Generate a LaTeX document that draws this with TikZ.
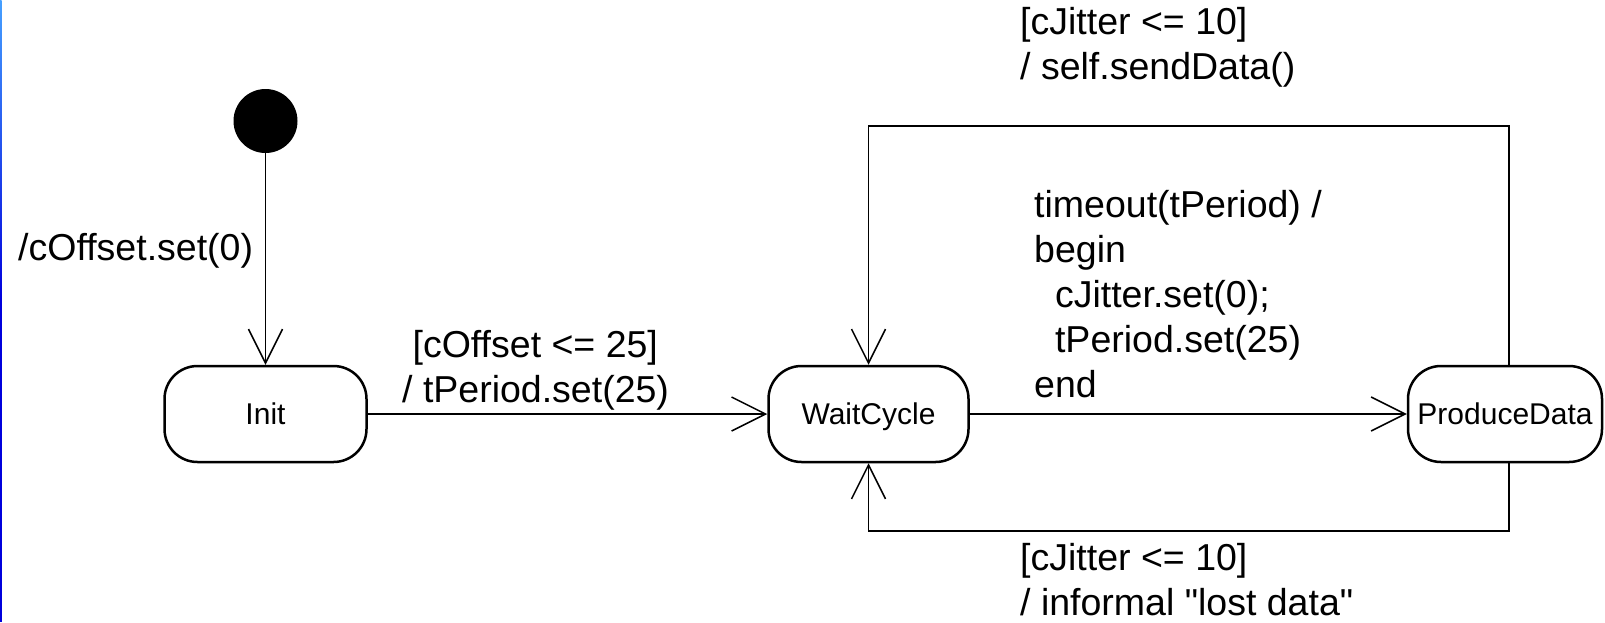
\documentclass[tikz,border=0pt]{standalone}
\usepackage{fontspec}
\setmainfont{Liberation Sans}[Ligatures=TeXOff]
\usetikzlibrary{arrows.meta}
\definecolor{edgelight}{RGB}{70,160,255}
\definecolor{edgedark}{RGB}{0,0,220}
\begin{document}
\begin{tikzpicture}[x=1pt, y=-1pt,
  state/.style={draw, line width=2.5pt, rounded corners=33pt,
    minimum width=200pt, minimum height=96pt, inner sep=0pt,
    font=\fontsize{30}{36}\selectfont, text height=21.5pt, text depth=0pt},
  initial/.style={circle, fill=black, inner sep=0pt, minimum size=64pt},
  trans/.style={line width=1.5pt, -{Straight Barb[length=34pt,width=34pt]}},
  lbl/.style={anchor=north west, inner sep=0pt, align=left,
    font=\fontsize{37.5}{45}\selectfont}]

\useasboundingbox (0,0) rectangle (1605,622);

% left frame edge
\shade[top color=edgelight, bottom color=edgedark] (0,0) rectangle (1.5,300);
\fill[edgedark] (0,300) rectangle (1.5,622);

% states
\node[initial] (start) at (265.5,121) {};
\node[state, minimum width=202pt] (init) at (265.5,414) {Init};
\node[state, minimum width=200pt] (wc) at (868.5,414) {WaitCycle};
\node[state, minimum width=194pt] (pd) at (1505,414) {ProduceData};

% routing levels of the two loops
\coordinate (looptop) at (1509,126);
\coordinate (loopbot) at (1509,531);

% transitions
\draw[trans] (start) -- (init);
\draw[trans] (init) -- (wc);
\draw[trans] (wc) -- (pd);
\draw[trans] (pd.north -| looptop) -- (looptop) -- (looptop -| wc.north) -- (wc.north);
\draw[trans] (pd.south -| loopbot) -- (loopbot) -- (loopbot -| wc.south) -- (wc.south);

% transition labels
\node[lbl] (lblstart) at (18,228.5) {\strut/cOffset.set(0)};
\node[lbl] (lblinit) at (402,325.5)
  {\strut\hspace*{0.278em}[cOffset <= 25]\\/ tPeriod.set(25)};
\node[lbl] (lbltick) at (1034,185.5)
  {\strut timeout(tPeriod) /\\begin\\\hspace*{0.556em}cJitter.set(0);\\\hspace*{0.556em}tPeriod.set(25)\\end};
\node[lbl] (lblsend) at (1020,2.5) {\strut[cJitter <= 10]\\/ self.sendData()};
\node[lbl] (lbllost) at (1020,538.5) {\strut[cJitter <= 10]\\/ informal "lost data"};
\end{tikzpicture}
\end{document}
